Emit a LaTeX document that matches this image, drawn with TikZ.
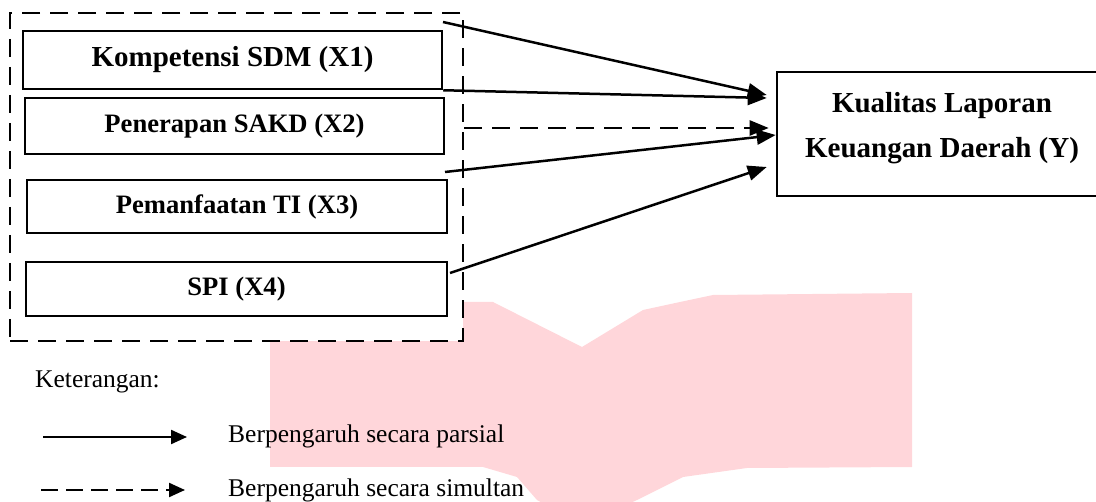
\documentclass[tikz,border=0pt]{standalone}
\usepackage{fontspec}
\setmainfont{Liberation Serif}
\usetikzlibrary{arrows.meta,calc}
\definecolor{wmpink}{RGB}{255,214,218}
\tikzset{
  varbox/.style={draw, line width=2.5pt, rectangle, inner sep=0pt, fill=white,
    font=\bfseries\fontsize{26.6}{32}\selectfont},
  framebox/.style={draw, line width=2.4pt, rectangle, fill=white, inner sep=0pt,
    dash pattern=on 18pt off 10pt},
  ybox/.style={draw, line width=2.6pt, rectangle, inner sep=0pt, fill=white},
  ytext/.style={font=\bfseries\fontsize{29}{45}\selectfont, align=center, inner sep=0pt},
  legtext/.style={font=\fontsize{25.5}{30}\selectfont, inner sep=0pt, anchor=base west},
  parr/.style={line width=2.5pt, -{Triangle[length=19pt,width=15pt]}},
  sarr/.style={parr, dash pattern=on 18pt off 10pt},
  legp/.style={line width=2.2pt, -{Triangle[length=16pt,width=14pt]}},
  legs/.style={legp, dash pattern=on 17pt off 8pt},
}
\begin{document}
\begin{tikzpicture}[x=1pt,y=-1pt]
\useasboundingbox (0,0) rectangle (1096,502);
\clip (0,0) rectangle (1096,502);
% watermark
\fill[wmpink] (270,302) -- (493,302) -- (582,347) -- (643,310) -- (680,302) -- (713,295)
  -- (912,293) -- (912,467) -- (747,468) -- (683,477) -- (637,500) -- (582,525)
  -- (537,500) -- (517,477) -- (483,467) -- (270,467) -- cycle;
% dashed frame
\node[framebox, minimum width=453pt, minimum height=328pt] (frame) at (236.5,177) {};
% variable boxes
\node[varbox, minimum width=419pt, minimum height=58pt, font=\bfseries\fontsize{29}{34}\selectfont] (x1) at (232.5,60) {Kompetensi SDM (X1)};
\node[varbox, minimum width=419pt, minimum height=56pt] (x2) at (234.5,126) {Penerapan SAKD (X2)};
\node[varbox, minimum width=420pt, minimum height=53pt] (x3) at (237,206.5) {Pemanfaatan TI (X3)};
\node[varbox, minimum width=421pt, minimum height=54pt] (x4) at (236.5,289) {SPI (X4)};
% dependent box
\node[ybox, minimum width=330pt, minimum height=124pt] (Y) at (942,134) {};
\node[ytext] (ylab) at (942,128) {Kualitas Laporan\\Keuangan Daerah (Y)};
% start and tip points
\coordinate (s1) at (443,22);
\coordinate (s4) at (445,172);
\coordinate (s5) at (450,273);
\coordinate (t1) at ($(Y.west)+(-9,-39)$);
\coordinate (t2) at ($(Y.west)+(-9,-36)$);
\coordinate (t3) at ($(Y.west)+(-7,-6)$);
\coordinate (t4) at ($(Y.west)+(0,1)$);
\coordinate (t5) at ($(Y.west)+(-9,33)$);
% connectors
\draw[parr] (s1) -- (t1);
\draw[parr] (x1.south east) -- (t2);
\draw[sarr] (frame.east |- t3) -- (t3);
\draw[parr] (s4) -- (t4);
\draw[parr] (s5) -- (t5);
% legend
\node[legtext] (ket) at (35,388) {Keterangan:};
\node[legtext] (lp) at (228,443) {Berpengaruh secara parsial};
\node[legtext] (ls) at (228,497) {Berpengaruh secara simultan};
\coordinate (la1) at (43,437);
\coordinate (la2) at (187,437);
\coordinate (lb1) at (41,490);
\coordinate (lb2) at (185,490);
\draw[legp] (la1) -- (la2);
\draw[legs] (lb1) -- (lb2);
\end{tikzpicture}
\end{document}
